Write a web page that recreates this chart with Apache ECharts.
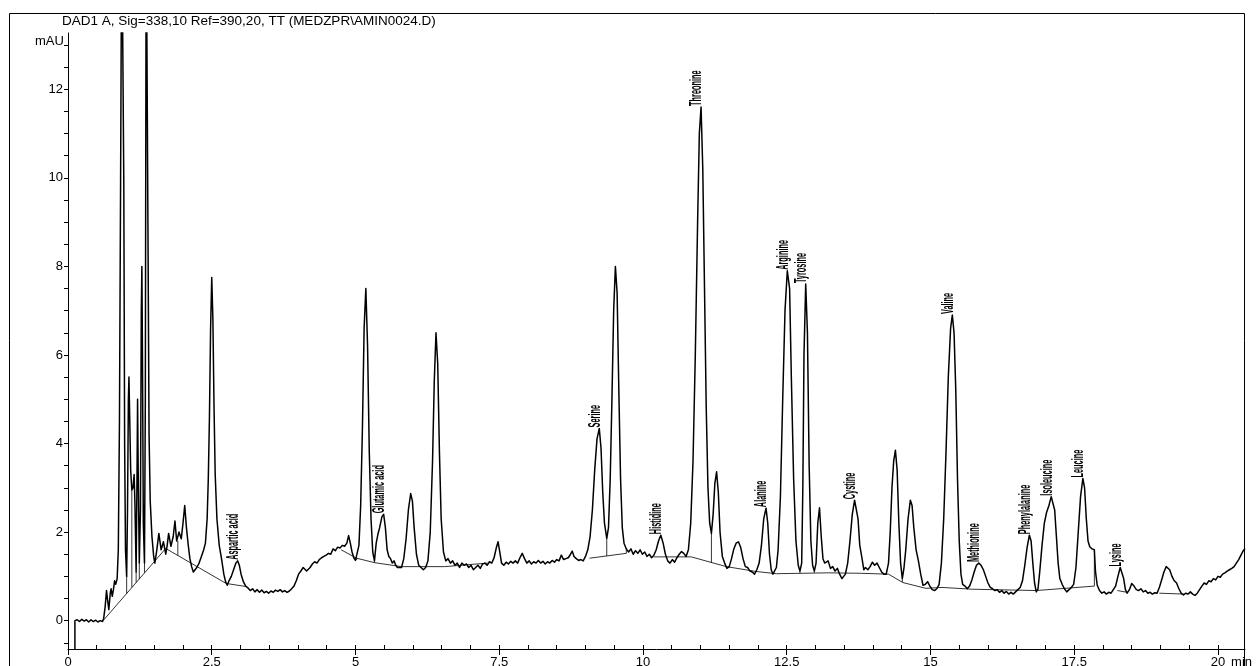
<!DOCTYPE html>
<html><head><meta charset="utf-8">
<script src="https://cdn.jsdelivr.net/npm/echarts@6.0.0/dist/echarts.min.js"></script>
<style>html,body{margin:0;padding:0;background:#fff}#c{width:1258px;height:666px}</style>
</head><body><div id="c"></div>
<script>
const titleText = 'DAD1 A, Sig=338,10 Ref=390,20, TT (MEDZPR\\AMIN0024.D)';
const yUnit = 'mAU';
const xUnit = 'min';
const xMajorTicks = [0, 2.5, 5, 7.5, 10, 12.5, 15, 17.5, 20];
const yMajorTicks = [0, 2, 4, 6, 8, 10, 12];

// chromatogram trace [time (min), signal (mAU)]
const traceA = [[0.12,-0.64],[0.12,0],[0.16,0.02],[0.20,-0.02],[0.24,0.03],[0.28,-0.01],[0.32,0.02],[0.36,-0.03],[0.40,0.02],[0.44,-0.02],[0.48,0.01],[0.52,-0.03],[0.56,0.00],[0.60,-0.02],[0.62,0.05],[0.645,0.30],[0.67,0.68],[0.69,0.45],[0.71,0.25],[0.735,0.62],[0.75,0.72],[0.77,0.55],[0.79,0.70],[0.81,0.90],[0.83,0.82],[0.855,0.95],[0.875,1.6],[0.895,4.5],[0.915,10],[0.935,16],[0.955,16],[0.97,10],[0.985,4],[1.00,1.6],[1.02,1.0],[1.035,2.5],[1.05,5.0],[1.06,5.5],[1.07,4.8],[1.09,3.4],[1.11,2.95],[1.13,3.0],[1.15,3.3],[1.165,2.6],[1.185,1.1],[1.20,3.2],[1.21,5.0],[1.22,3.5],[1.24,1.3],[1.26,2.5],[1.275,7.0],[1.285,8.0],[1.295,6.0],[1.31,2.2],[1.33,1.3],[1.345,5],[1.36,16],[1.38,16],[1.39,9],[1.41,4.2],[1.43,2.7],[1.46,1.9],[1.49,1.45],[1.51,1.3],[1.545,1.6],[1.58,1.97],[1.62,1.6],[1.66,1.78],[1.70,1.5],[1.725,1.7],[1.75,1.97],[1.79,1.68],[1.83,1.9],[1.86,2.25],[1.89,1.8],[1.91,1.8],[1.93,2.0],[1.97,1.85],[2.00,2.2],[2.03,2.6],[2.06,2.1],[2.09,1.72],[2.12,1.4],[2.15,1.22],[2.18,1.1],[2.21,1.13],[2.24,1.2],[2.28,1.3],[2.32,1.45],[2.36,1.6],[2.39,1.75],[2.42,2.3],[2.44,3.2],[2.46,4.6],[2.48,6.6],[2.50,7.75],[2.52,6.8],[2.54,4.8],[2.56,3.3],[2.59,2.3],[2.63,1.7],[2.67,1.4],[2.71,1.05],[2.74,0.88],[2.77,0.80],[2.80,0.90],[2.84,1.0],[2.88,1.15],[2.92,1.3],[2.95,1.35],[2.98,1.25],[3.01,1.05],[3.05,0.88],[3.09,0.78]];
const traceB = [[3.13,0.74],[3.17,0.68],[3.21,0.72],[3.25,0.65],[3.29,0.70],[3.33,0.64],[3.37,0.69],[3.41,0.63],[3.45,0.66],[3.49,0.62],[3.53,0.67],[3.57,0.64],[3.61,0.69],[3.65,0.66],[3.69,0.70],[3.73,0.65],[3.77,0.68],[3.81,0.64],[3.85,0.67],[3.89,0.72],[3.93,0.78],[3.97,0.90],[4.01,1.05],[4.05,1.12],[4.09,1.20],[4.12,1.22],[4.15,1.12],[4.18,1.10],[4.21,1.20],[4.25,1.28],[4.29,1.33],[4.33,1.30],[4.37,1.38],[4.41,1.42],[4.45,1.45],[4.49,1.48],[4.53,1.52],[4.57,1.50],[4.61,1.62],[4.65,1.58],[4.69,1.66],[4.73,1.64],[4.77,1.70],[4.81,1.68],[4.85,1.75],[4.88,1.92],[4.91,1.75],[4.94,1.55],[4.97,1.42],[5.00,1.36],[5.03,1.38],[5.06,1.7],[5.09,2.6],[5.12,4.3],[5.15,6.6],[5.18,7.5],[5.21,6.2],[5.24,3.8],[5.27,2.3],[5.30,1.55],[5.33,1.35],[5.36,1.75],[5.39,1.95],[5.42,2.1],[5.46,2.35],[5.49,2.4],[5.52,2.1],[5.55,1.6],[5.58,1.45],[5.61,1.40],[5.64,1.30],[5.67,1.35],[5.70,1.25],[5.73,1.20],[5.76,1.22],[5.80,1.20],[5.84,1.4],[5.88,1.85],[5.92,2.5],[5.96,2.87],[5.99,2.7],[6.02,2.1],[6.06,1.5],[6.10,1.25],[6.14,1.20],[6.18,1.15],[6.22,1.20],[6.26,1.35],[6.30,2.0],[6.34,3.6],[6.37,5.4],[6.40,6.5],[6.43,5.8],[6.46,3.8],[6.49,2.3],[6.53,1.55]];
const traceC = [[6.57,1.35],[6.61,1.40],[6.65,1.30],[6.69,1.35],[6.73,1.25],[6.77,1.30],[6.81,1.20],[6.85,1.30],[6.89,1.25],[6.93,1.28],[6.97,1.20],[7.01,1.25],[7.05,1.15],[7.09,1.20],[7.13,1.25],[7.17,1.18],[7.21,1.28],[7.25,1.30],[7.29,1.25],[7.33,1.33],[7.37,1.30],[7.41,1.42],[7.45,1.65],[7.48,1.78],[7.51,1.55],[7.54,1.30],[7.58,1.25],[7.62,1.32],[7.66,1.28],[7.70,1.34],[7.74,1.30],[7.78,1.35],[7.82,1.30],[7.86,1.42],[7.90,1.52],[7.94,1.40],[7.98,1.30],[8.02,1.35],[8.06,1.28],[8.10,1.33],[8.14,1.30],[8.18,1.36],[8.22,1.30],[8.26,1.34],[8.30,1.28],[8.34,1.33],[8.38,1.30],[8.42,1.36],[8.46,1.32],[8.50,1.38],[8.54,1.35],[8.58,1.48],[8.62,1.38],[8.66,1.40],[8.70,1.42],[8.74,1.50],[8.77,1.57],[8.80,1.45],[8.84,1.40],[8.88,1.36],[8.92,1.38],[8.96,1.35],[9.00,1.45],[9.04,1.6],[9.08,1.9],[9.12,2.5],[9.16,3.4],[9.20,4.1],[9.24,4.34],[9.27,3.9],[9.30,2.9],[9.33,2.2],[9.37,1.86],[9.40,2.1],[9.43,3.2],[9.46,5.0],[9.49,7.0],[9.52,8.0],[9.55,7.4],[9.58,5.2],[9.61,3.2],[9.64,2.1],[9.67,1.75],[9.71,1.62],[9.75,1.55],[9.79,1.62],[9.83,1.50],[9.87,1.58],[9.91,1.52],[9.95,1.60],[9.99,1.50],[10.03,1.55],[10.07,1.45],[10.11,1.50],[10.15,1.42],[10.19,1.48],[10.23,1.6],[10.27,1.8],[10.31,1.93],[10.35,1.75],[10.39,1.5],[10.43,1.35],[10.47,1.30],[10.51,1.38],[10.55,1.32],[10.59,1.42],[10.63,1.50],[10.67,1.56],[10.71,1.52],[10.75,1.45],[10.79,1.6],[10.83,2.2],[10.87,3.6],[10.91,6.0],[10.95,9.0],[10.98,11.0],[11.01,11.6],[11.04,10.2],[11.07,7.5],[11.10,4.8],[11.13,3.0],[11.16,2.2],[11.19,1.97]];
const traceD = [[11.22,2.4],[11.25,3.1],[11.28,3.36],[11.31,2.9],[11.34,2.0],[11.38,1.45],[11.42,1.30],[11.46,1.18],[11.50,1.22],[11.54,1.4],[11.58,1.62],[11.62,1.75],[11.66,1.78],[11.70,1.65],[11.74,1.4],[11.78,1.22],[11.82,1.20],[11.86,1.12],[11.90,1.10],[11.94,1.05],[11.98,1.15],[12.02,1.3],[12.06,1.7],[12.10,2.3],[12.14,2.54],[12.17,2.2],[12.20,1.5],[12.23,1.15],[12.26,1.05],[12.29,1.02],[12.32,1.2],[12.35,1.6],[12.39,2.8],[12.43,5.0],[12.47,7.0],[12.51,7.9],[12.55,7.5],[12.58,5.5],[12.62,3.2],[12.66,1.8],[12.70,1.25],[12.73,1.12],[12.76,1.3],[12.78,3.0],[12.80,6.0],[12.83,7.6],[12.86,6.5],[12.89,3.5],[12.92,1.8],[12.95,1.25],[12.98,1.12],[13.01,1.3],[13.04,2.2],[13.07,2.55],[13.10,1.9],[13.13,1.4],[13.16,1.30],[13.19,1.28],[13.22,1.35],[13.26,1.18],[13.30,1.22],[13.34,1.12],[13.38,1.18],[13.42,1.05],[13.46,0.95],[13.49,0.92],[13.52,1.05],[13.56,1.3],[13.60,1.8],[13.64,2.4],[13.68,2.72],[13.71,2.7],[13.74,2.3],[13.77,1.7],[13.81,1.4],[13.84,1.15],[13.87,1.20],[13.91,1.15],[13.95,1.22],[13.99,1.32],[14.03,1.25],[14.07,1.30],[14.11,1.20],[14.15,1.10],[14.19,1.05],[14.23,1.05],[14.27,1.3],[14.30,2.0],[14.33,3.0],[14.36,3.6],[14.39,3.85],[14.42,3.4],[14.45,2.2],[14.48,1.3],[14.51,0.95],[14.54,1.2],[14.57,1.6],[14.61,2.3],[14.65,2.72],[14.68,2.6],[14.71,2.1],[14.75,1.6],[14.79,1.35],[14.83,1.05],[14.87,0.80],[14.91,0.82],[14.95,0.88],[14.99,0.78]];
const traceE = [[15.03,0.70],[15.07,0.68],[15.11,0.72],[15.15,0.82],[15.19,1.3],[15.23,2.3],[15.27,3.8],[15.31,5.5],[15.35,6.6],[15.38,6.9],[15.41,6.5],[15.44,5.2],[15.47,3.2],[15.50,1.8],[15.53,1.05],[15.56,0.82],[15.60,0.78],[15.64,0.72],[15.68,0.78],[15.72,0.92],[15.76,1.10],[15.80,1.25],[15.84,1.30],[15.88,1.25],[15.92,1.15],[15.96,1.00],[16.00,0.85],[16.04,0.75],[16.08,0.72],[16.12,0.68],[16.16,0.70],[16.20,0.64],[16.24,0.68],[16.28,0.62],[16.32,0.66],[16.36,0.60],[16.40,0.64],[16.44,0.60],[16.48,0.65],[16.52,0.70],[16.56,0.75],[16.60,0.90],[16.64,1.25],[16.68,1.65],[16.72,1.93],[16.75,1.8],[16.78,1.3],[16.81,0.85],[16.84,0.65],[16.87,0.72],[16.90,1.1],[16.94,1.7],[16.98,2.2],[17.02,2.45],[17.06,2.6],[17.10,2.8],[17.13,2.78],[17.16,2.5],[17.19,1.9],[17.22,1.3],[17.25,0.95],[17.29,0.82],[17.33,0.72],[17.37,0.65],[17.41,0.70],[17.45,0.75],[17.49,0.82],[17.53,1.2],[17.57,2.0],[17.61,2.8],[17.65,3.21],[17.68,3.0],[17.71,2.3],[17.74,1.8],[17.77,1.67],[17.81,1.62],[17.85,1.6],[17.87,1.1],[17.90,0.80],[17.94,0.68],[17.98,0.62],[18.02,0.65],[18.06,0.60],[18.10,0.64],[18.14,0.62],[18.18,0.70],[18.22,0.78],[18.26,1.00],[18.30,1.20],[18.33,1.18],[18.36,0.95],[18.39,0.70],[18.42,0.62],[18.46,0.70],[18.50,0.84],[18.54,0.78],[18.58,0.70],[18.62,0.68],[18.66,0.72],[18.70,0.65],[18.74,0.68],[18.78,0.62],[18.82,0.64],[18.86,0.60],[18.90,0.63],[18.94,0.62],[18.98,0.75],[19.02,0.92],[19.06,1.10],[19.10,1.22],[19.13,1.26],[19.16,1.15],[19.20,1.00],[19.24,0.90],[19.28,0.85],[19.32,0.72],[19.36,0.62],[19.40,0.58],[19.44,0.62],[19.48,0.60],[19.52,0.65],[19.56,0.60],[19.60,0.57],[19.64,0.62],[19.68,0.70],[19.72,0.78],[19.76,0.85],[19.80,0.82],[19.84,0.90],[19.88,0.88],[19.92,0.95],[19.96,0.92],[20.00,1.00],[20.04,0.98],[20.08,1.05],[20.12,1.08],[20.16,1.12],[20.20,1.15],[20.24,1.18],[20.28,1.22],[20.32,1.30],[20.36,1.38],[20.40,1.48],[20.44,1.58],[20.47,1.63]];

// integration baselines
const baseSeg1 = [[0.61,0],[1.70,1.63],[2.75,0.84],[3.10,0.77]];
const baseSeg2 = [[4.75,1.60],[5.02,1.41],[5.33,1.31],[5.80,1.22],[6.55,1.22],[7.30,1.30]];
const baseSeg3 = [[9.07,1.41],[9.71,1.52]];
const baseSeg4 = [[10.18,1.44],[10.84,1.44],[11.45,1.22],[11.97,1.11],[12.32,1.06],[13.22,1.08],[13.77,1.07],[14.27,1.05],[14.52,0.86],[14.92,0.73],[15.20,0.75],[15.73,0.71],[16.84,0.68],[17.85,0.78]];
const baseSeg5 = [[18.25,0.68],[18.42,0.64]];
const baseSeg6 = [[18.98,0.62],[19.41,0.60]];

// peak-boundary drop lines
const dropTimes = [1.02,1.11,1.185,1.24,1.33,1.91,5.02,5.33,9.37,9.71,11.19,12.73,12.98,14.51,17.85];
const dropLow   = [0.61,0.75,0.86,0.94,1.08,1.47,1.41,1.31,1.46,1.52,1.31,1.07,1.08,0.87,0.78];
const dropHigh  = [1.0,2.95,1.1,1.3,1.3,1.8,1.37,1.35,1.86,1.62,1.97,1.12,1.12,0.95,1.6];

// peak labels
const peakNames = ['Aspartic acid','Glutamic acid','Serine','Histidine','Threonine','Alanine','Arginine','Tyrosine','Cystine','Valine','Methionine','Phenylalanine','Isoleucine','Leucine','Lysine'];
const peakTimes = [2.95,5.49,9.24,10.31,11.01,12.14,12.51,12.83,13.68,15.38,15.84,16.72,17.10,17.65,18.30];
const peakHeights = [1.35,2.4,4.34,1.93,11.6,2.54,7.9,7.6,2.72,6.9,1.3,1.93,2.8,3.21,1.2];

const X_MIN = 0, X_MAX = 20.47, Y_MIN = -0.64, Y_MAX = 13.27;
const xMinorTicks = []; for (let v = 0; v <= 20.0001; v += 0.5) xMinorTicks.push(+v.toFixed(1));
const yMinorTicks = []; for (let v = -0.5; v <= 13.0001; v += 0.5) yMinorTicks.push(+v.toFixed(1));

const FONT = '"Liberation Sans", Arial, sans-serif';
const trace = traceA.concat(traceB, traceC, traceD, traceE);
const baseSegs = [baseSeg1, baseSeg2, baseSeg3, baseSeg4, baseSeg5, baseSeg6];

const chart = echarts.init(document.getElementById('c'), null, {renderer: 'canvas'});
const series = [];
baseSegs.forEach(seg => series.push({
  type: 'line', data: seg, symbol: 'none', silent: true,
  lineStyle: {color: '#000', width: 0.8}, z: 2
}));
series.push({
  type: 'line', data: trace, symbol: 'none', silent: true, clip: true,
  lineStyle: {color: '#000', width: 1.5, join: 'round'}, z: 3
});
series.push({
  type: 'custom', silent: true, clip: true, z: 2,
  data: dropTimes.map((t, i) => [t, dropLow[i], dropHigh[i]]),
  renderItem: (params, api) => {
    const a = api.coord([api.value(0), api.value(1)]);
    const b = api.coord([api.value(0), api.value(2)]);
    return {type: 'line', shape: {x1: a[0], y1: a[1], x2: b[0], y2: b[1]}, style: {stroke: '#000', lineWidth: 0.8}};
  }
});
series.push({
  type: 'custom', silent: true, z: 4,
  data: peakTimes.map((t, i) => [t, peakHeights[i]]),
  renderItem: (params, api) => {
    const p = api.coord([api.value(0), api.value(1)]);
    return {
      type: 'text', x: p[0] + 4, y: p[1] - 1, rotation: Math.PI / 2, scaleX: 0.46,
      style: {text: peakNames[params.dataIndex], font: 'bold 16px ' + FONT, fill: '#000', align: 'left', verticalAlign: 'bottom'}
    };
  }
});

chart.setOption({
  animation: false,
  backgroundColor: '#fff',
  grid: {left: 68, right: 13, top: 33, bottom: 17, containLabel: false, outerBoundsMode: 'none'},
  xAxis: [
    {type: 'value', min: X_MIN, max: X_MAX, position: 'bottom',
     axisLine: {show: true, onZero: false, lineStyle: {color: '#000', width: 1}},
     axisTick: {show: true, inside: true, length: 4, customValues: xMinorTicks, lineStyle: {color: '#000'}},
     axisLabel: {show: false}, splitLine: {show: false}},
    {type: 'value', min: X_MIN, max: X_MAX, position: 'bottom', offset: 0,
     axisLine: {show: false, onZero: false},
     axisTick: {show: true, inside: false, length: 6, customValues: xMajorTicks, lineStyle: {color: '#000'}},
     axisLabel: {show: true, customValues: xMajorTicks, margin: 7, color: '#000', fontSize: 13, fontFamily: FONT, showMaxLabel: true, hideOverlap: false},
     splitLine: {show: false},
     name: xUnit, nameLocation: 'end', nameGap: -15,
     nameTextStyle: {color: '#000', fontSize: 13, fontFamily: FONT, align: 'left', verticalAlign: 'top', padding: [7, 0, 0, 0]}}
  ],
  yAxis: {
    type: 'value', min: Y_MIN, max: Y_MAX,
    axisLine: {show: true, onZero: false, lineStyle: {color: '#000', width: 1}},
    axisTick: {show: true, inside: false, length: 4, customValues: yMinorTicks, lineStyle: {color: '#000'}},
    axisLabel: {show: true, customValues: yMajorTicks, margin: 5, color: '#000', fontSize: 13, fontFamily: FONT},
    splitLine: {show: false}
  },
  graphic: [
    {type: 'rect', silent: true, shape: {x: 9.5, y: 13.5, width: 1235, height: 700}, style: {fill: null, stroke: '#000', lineWidth: 1}, z: 100},
    {type: 'text', silent: true, x: 62, y: 14, style: {text: titleText, font: '13.5px ' + FONT, fill: '#000', align: 'left', verticalAlign: 'top'}},
    {type: 'text', silent: true, x: 35, y: 35, style: {text: yUnit, font: '13px ' + FONT, fill: '#000', align: 'left', verticalAlign: 'top'}}
  ],
  series: series
});
</script></body></html>
